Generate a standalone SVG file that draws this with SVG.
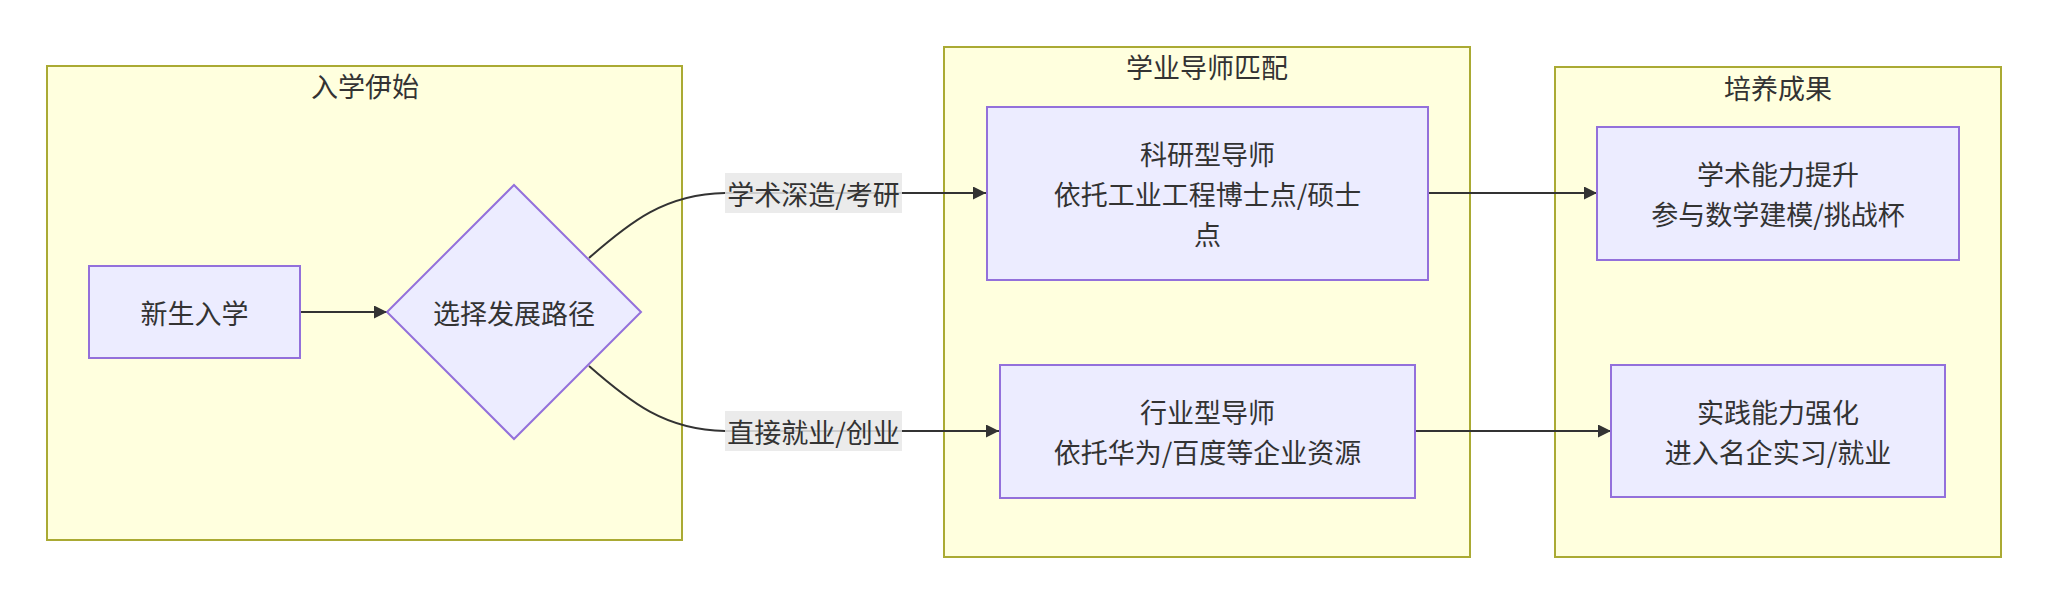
<svg xmlns="http://www.w3.org/2000/svg" width="2048" height="604" viewBox="0 0 2048 604">
<style>
.cluster{fill:#ffffde;stroke:#aaaa33;stroke-width:2}
.node{fill:#ececff;stroke:#9370db;stroke-width:2}
.t{font-family:"Noto Sans CJK SC","Noto Sans",sans-serif;font-size:27px;fill:#333;text-anchor:middle;dominant-baseline:central}
.edge{fill:none;stroke:#333;stroke-width:2}
.lbl{fill:#e8e8e8;opacity:0.85}
</style>
<defs>
<marker id="arr" viewBox="0 0 10 10" refX="10" refY="5" markerWidth="13" markerHeight="13" markerUnits="userSpaceOnUse" orient="auto">
<path d="M0,0 L10,5 L0,10 z" fill="#333"/>
</marker>
</defs>
<rect width="2048" height="604" fill="#ffffff"/>
<g id="cluster-start">
<rect class="cluster" x="47" y="66" width="635" height="474"/>
<text class="t" x="365" y="85">入学伊始</text>
</g>
<g id="cluster-mentor">
<rect class="cluster" x="944" y="47" width="526" height="510"/>
<text class="t" x="1207" y="66">学业导师匹配</text>
</g>
<g id="cluster-result">
<rect class="cluster" x="1555" y="67" width="446" height="490"/>
<text class="t" x="1778" y="87">培养成果</text>
</g>
<g id="connectors">
<path class="edge" d="M300,312 L387,312" marker-end="url(#arr)"/>
<path class="edge" d="M589,258 C630,222 665,194 725,193 L986,193" marker-end="url(#arr)"/>
<path class="edge" d="M589,366 C630,402 665,430 725,431 L999,431" marker-end="url(#arr)"/>
<path class="edge" d="M1428,193 L1597,193" marker-end="url(#arr)"/>
<path class="edge" d="M1415,431 L1611,431" marker-end="url(#arr)"/>
<rect class="lbl" x="725" y="173" width="177" height="40"/>
<text class="t" x="813.5" y="193">学术深造/考研</text>
<rect class="lbl" x="725" y="411" width="177" height="40"/>
<text class="t" x="813.5" y="431">直接就业/创业</text>
</g>
<g id="node-newstudent">
<rect class="node" x="89" y="266" width="211" height="92"/>
<text class="t" x="194.5" y="312">新生入学</text>
</g>
<g id="node-choose">
<polygon class="node" points="514,185 641,312 514,439 387,312"/>
<text class="t" x="514" y="312">选择发展路径</text>
</g>
<g id="node-research">
<rect class="node" x="987" y="107" width="441" height="173"/>
<text class="t" x="1207.5" y="153">科研型导师</text>
<text class="t" x="1207.5" y="193">依托工业工程博士点/硕士</text>
<text class="t" x="1207.5" y="233">点</text>
</g>
<g id="node-industry">
<rect class="node" x="1000" y="365" width="415" height="133"/>
<text class="t" x="1207.5" y="411">行业型导师</text>
<text class="t" x="1207.5" y="451">依托华为/百度等企业资源</text>
</g>
<g id="node-academic">
<rect class="node" x="1597" y="127" width="362" height="133"/>
<text class="t" x="1778" y="173">学术能力提升</text>
<text class="t" x="1778" y="213">参与数学建模/挑战杯</text>
</g>
<g id="node-practice">
<rect class="node" x="1611" y="365" width="334" height="132"/>
<text class="t" x="1778" y="411">实践能力强化</text>
<text class="t" x="1778" y="451">进入名企实习/就业</text>
</g>
</svg>
